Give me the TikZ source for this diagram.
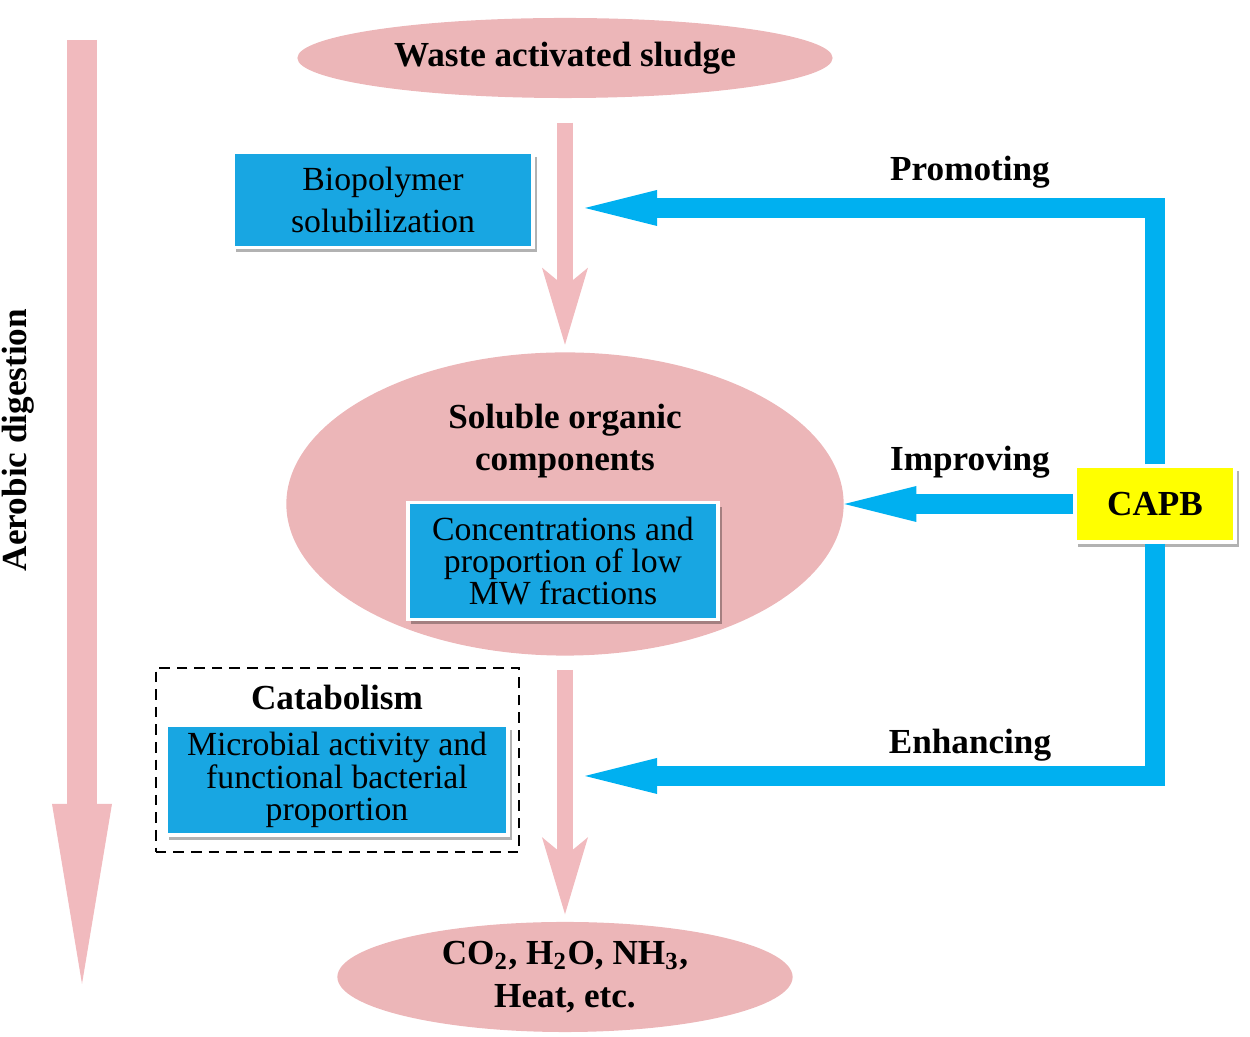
\documentclass[tikz,border=0pt]{standalone}
\usepackage{fontspec}
\setmainfont{Liberation Serif}
\usepackage{tikz}
\usetikzlibrary{arrows.meta}
\usetikzlibrary{shapes.geometric}
\usetikzlibrary{shadows}
\definecolor{sludgepink}{RGB}{236,182,184}
\definecolor{flowpink}{RGB}{241,186,190}
\definecolor{capbblue}{RGB}{0,176,240}
\definecolor{boxblue}{RGB}{24,166,226}
\definecolor{capbyellow}{RGB}{255,255,0}

\begin{document}
\begin{tikzpicture}[x=0.01cm,y=-0.01cm,line join=miter]
\tikzstyle{blob} = [ellipse,fill=sludgepink,inner sep=0pt,font=\fontsize{10}{12.2}\selectfont\bfseries,align=center]
\tikzstyle{lbl} = [font=\fontsize{10}{12}\selectfont\bfseries,inner sep=0pt,align=center]
\tikzstyle{bluebox} = [rectangle,fill=boxblue,draw=white,line width=1pt,inner sep=0pt,align=center,
   drop shadow={shadow xshift=1pt,shadow yshift=-1.4pt,fill=black,opacity=.3},font=\fontsize{9.6}{9.2}\selectfont]
\tikzstyle{pinkflow} = [draw=flowpink,line width=1.5mm,-{Stealth[length=7.7mm,width=4.6mm,inset=1.9mm,line width=0pt]}]
\tikzstyle{blueflow} = [draw=capbblue,line width=2mm,-{Triangle[length=7.2mm,width=3.6mm,line width=0pt]}]
\useasboundingbox (0,0) rectangle (1250,1037);
\node[blob,minimum width=53.5mm,minimum height=8mm] (sludge) at (565,58) {Waste activated sludge};
\node[blob,minimum width=55.7mm,minimum height=30.3mm] (soluble) at (565,504) {};
\node[lbl,font=\fontsize{10}{12}\selectfont\bfseries] (soltxt) at (565,441) {Soluble organic\\components};
\node[bluebox,minimum width=31mm,minimum height=11.7mm] (lowmw) at (563,561) {Concentrations and\\proportion of low\\MW fractions};
\node[blob,minimum width=45.5mm,minimum height=11mm] (products) at (565,977) {CO\textsubscript{2}, H\textsubscript{2}O, NH\textsubscript{3},\\Heat, etc.};
\node[bluebox,minimum width=30mm,minimum height=9.5mm,font=\fontsize{9.6}{11.7}\selectfont] (biopol) at (383,200) {Biopolymer\\solubilization};
\node[draw,dash pattern=on 3pt off 2pt,line width=.6pt,minimum width=36.3mm,minimum height=18.4mm] (catab) at (337.5,760) {};
\node[lbl] (catabtxt) at (337,697) {Catabolism};
\node[bluebox,minimum width=34.2mm,minimum height=11mm] (microb) at (337,780) {Microbial activity and\\functional bacterial\\proportion};
\node[lbl,rectangle,fill=capbyellow,draw=white,line width=1pt,minimum width=16mm,minimum height=7.6mm,
   drop shadow={shadow xshift=1pt,shadow yshift=-1.4pt,fill=black,opacity=.3}] (capb) at (1155,504) {CAPB};
\node[lbl] (promote) at (970,172) {Promoting};
\node[lbl] (improve) at (970,462) {Improving};
\node[lbl] (enhance) at (970,745) {Enhancing};
\node[lbl,rotate=90] (aerobic) at (18,440) {Aerobic digestion};
\coordinate (aerotop) at (82,40);
\coordinate (aerobot) at (82,984);
\coordinate (promotip) at (585,208);
\coordinate (enhtip) at (585,776);
\draw[pinkflow,line width=3mm,-{Triangle[length=18mm,width=6mm,line width=0pt]}] (aerotop) -- (aerobot);
\draw[pinkflow,shorten <=2.4mm,shorten >=.7mm] (sludge.south) -- (soluble.north);
\draw[pinkflow,shorten <=1.35mm,shorten >=.7mm] (soluble.south) -- (products.north);
\draw[blueflow] (capb.north) |- (promotip);
\draw[blueflow] (capb.west) -- (soluble.east);
\draw[blueflow] (capb.south) |- (enhtip);
\end{tikzpicture}
\end{document}
